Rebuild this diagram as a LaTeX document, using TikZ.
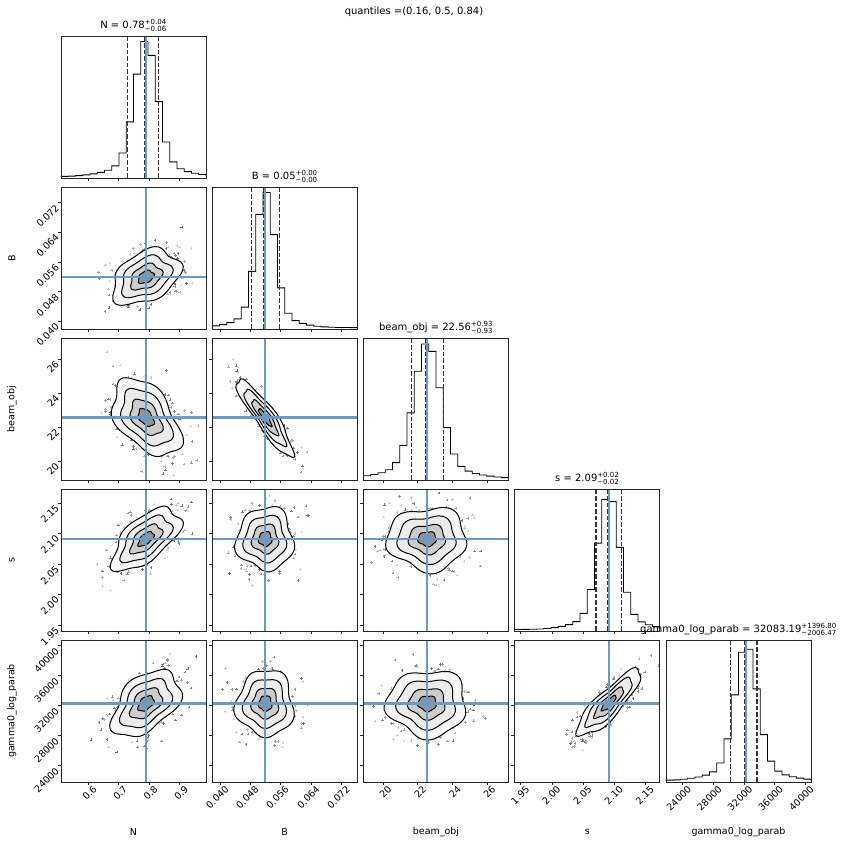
\documentclass[tikz,border=0pt]{standalone}
\usepackage{fontspec}
\setmainfont{DejaVu Sans}
\definecolor{steelblue}{HTML}{6A9BC6}
\newcommand\errs[2]{$^{\textrm{\scriptsize #1}}_{\textrm{\scriptsize #2}}$}
% tick fraction / label lists per parameter
\newcommand\setticks[1]{\ifcase#1\or
  \def\tl{0.187/0.6,0.398/0.7,0.608/0.8,0.819/0.9}\or
  \def\tl{0.055/0.040,0.262/0.048,0.469/0.056,0.683/0.064,0.890/0.072}\or
  \def\tl{0.134/20,0.373/22,0.613/24,0.852/26}\or
  \def\tl{0.042/1.95,0.257/2.00,0.472/2.05,0.687/2.10,0.902/2.15}\or
  \def\tl{0.115/24000,0.326/28000,0.537/32000,0.748/36000,0.960/40000}\fi}
\newcommand\settitle[1]{\ifcase#1\or
  \def\ttl{N = 0.78\errs{+0.04}{−0.06}}\or
  \def\ttl{B = 0.05\errs{+0.00}{−0.00}}\or
  \def\ttl{beam\_obj = 22.56\errs{+0.93}{−0.93}}\or
  \def\ttl{s = 2.09\errs{+0.02}{−0.02}}\or
  \def\ttl{gamma0\_log\_parab = 32083.19\errs{+1396.80}{−2006.47}}\fi}
\begin{document}
\begin{tikzpicture}[x=1pt,y=1pt,
    frame/.style={draw=black!85,line width=0.8pt},
    truth/.style={fill=steelblue},
    qline/.style={dash pattern=on 4.5pt off 2pt,line width=1.3pt,draw=black!80},
    hist/.style={draw=black,line width=0.9pt},
    cont/.style={draw=black,line width=1pt},
    ticklab/.style={font=\fontsize{9.5}{11}\selectfont,rotate=45,inner sep=1pt},
    axlab/.style={font=\fontsize{9.5}{11}\selectfont},
    ttlnode/.style={font=\fontsize{10}{12}\selectfont,anchor=south,inner sep=1pt}]
  \useasboundingbox[fill=white] (0,0) rectangle (863,846);
  \pgfmathsetseed{4242}
  \foreach \i in {1,...,5}{
    \foreach \j in {1,...,\i}{
      \pgfmathsetmacro\xl{61+151.25*(\j-1)}
      \pgfmathsetmacro\yb{846-(178+151*(\i-1))}
      \pgfmathsetmacro\mux{{0.586,0.366,0.44,0.648,0.553}[\j-1]}
      \pgfmathsetmacro\sx{{0.09,0.075,0.105,0.085,0.09}[\j-1]}
      \pgfmathsetmacro\muy{{0.586,0.366,0.44,0.648,0.553}[\i-1]}
      \pgfmathsetmacro\sy{{0.09,0.075,0.105,0.085,0.09}[\i-1]}
      \pgfmathsetmacro\rh{{0,0.35,-0.45,0.6,0.45, 0.35,0,-0.9,0,0, -0.45,-0.9,0,0,0, 0.6,0,0,0,0.85, 0.45,0,0,0.85,0}[5*(\i-1)+\j-1]}
      \pgfmathsetmacro\rc{sqrt(1-\rh*\rh)}
      \begin{scope}[shift={(\xl,\yb)},x=145pt,y=142pt]
        \ifnum\i=\j
          % histogram
          \pgfmathsetmacro\ql{{0.126,0.097,0.111,0.087,0.106}[\j-1]}
          \pgfmathsetmacro\qu{{0.084,0.097,0.111,0.087,0.074}[\j-1]}
          \draw[hist] (0,0.01) foreach \k [evaluate=\k as \h using
              {0.01+0.86*exp(-0.5*((\k/20+0.025-\mux)/(0.85*\sx))^2)+0.1*exp(-0.5*((\k/20+0.025-\mux)/(2.2*\sx))^2)}]
              in {0,...,19} {-- (\k/20,\h) -- (\k/20+0.05,\h)} -- (1,0.01);
          \draw[qline] (\mux-\ql,0) -- (\mux-\ql,1);
          \draw[qline] (\mux-0.01,0) -- (\mux-0.01,1);
          \draw[qline] (\mux+\qu,0) -- (\mux+\qu,1);
          \fill[truth] ([xshift=-1.1pt]\mux,0) rectangle ([xshift=1.1pt]\mux,1);
          \settitle{\i}
          \node[ttlnode] (title\i) at (0.5,1) [yshift=3pt] {\ttl};
        \else
          \begin{scope}
            \clip (0,0) rectangle (1,1);
            % scatter
            \foreach \k in {1,...,260}{
              \pgfmathsetmacro\za{1.5*(rand+rand+rand)}
              \pgfmathsetmacro\zb{1.5*(rand+rand+rand)}
              \pgfmathtruncatemacro\gv{15+45*rnd}
              \draw[black!\gv,line width=0.35pt]
                (\mux+\sx*\za,\muy+\sy*\rh*\za+\sy*\rc*\zb)
                +(-1.3pt,0) -- +(1.3pt,0) +(0,-1.3pt) -- +(0,1.3pt);
            }
            % density levels
            \foreach \lv/\gr in {2.6/3,1.9/8,1.2/20,0.6/42}{
              \fill[black!\gr] plot[variable=\t,domain=0:350,samples=36,smooth cycle]
                ({\mux+\lv*\sx*cos(\t)*(1+0.08*sin(5*\t+40*\i)+0.06*cos(3*\t+70*\j))},
                 {\muy+\lv*\sy*(\rh*cos(\t)+\rc*sin(\t))*(1+0.08*sin(5*\t+40*\i)+0.06*cos(3*\t+70*\j))});
            }
            \foreach \lv in {2.6,1.9,1.2,0.6}{
              \draw[cont] plot[variable=\t,domain=0:350,samples=36,smooth cycle]
                ({\mux+\lv*\sx*cos(\t)*(1+0.08*sin(5*\t+40*\i)+0.06*cos(3*\t+70*\j))},
                 {\muy+\lv*\sy*(\rh*cos(\t)+\rc*sin(\t))*(1+0.08*sin(5*\t+40*\i)+0.06*cos(3*\t+70*\j))});
            }
          \end{scope}
          \fill[truth] ([xshift=-1.1pt]\mux,0) rectangle ([xshift=1.1pt]\mux,1);
          \fill[truth] ([yshift=-1.1pt]0,\muy) rectangle ([yshift=1.1pt]1,\muy);
          \fill[truth] ([xshift=-3.5pt,yshift=-3.5pt]\mux,\muy) rectangle ([xshift=3.5pt,yshift=3.5pt]\mux,\muy);
          % y ticks
          \setticks{\i}
          \foreach \p/\lab in \tl{
            \draw[black!85,line width=0.7pt] (0,\p) -- ++(-3.5pt,0);
            \ifnum\j=1
              \node[ticklab,anchor=east] at (0,\p) [xshift=-4pt] {\lab};
            \fi
          }
        \fi
        \draw[frame] (0,0) rectangle (1,1);
        % x ticks
        \setticks{\j}
        \foreach \p/\lab in \tl{
          \draw[black!85,line width=0.7pt] (\p,0) -- ++(0,-3.5pt);
          \ifnum\i=5
            \node[ticklab,anchor=north east] at (\p,0) [yshift=-4pt,xshift=2pt] {\lab};
          \fi
        }
      \end{scope}
    }
  }
  % axis labels
  \foreach \x/\lab [count=\n] in {133.5/N,284.75/B,436/beam\_obj,587.25/s,738.5/gamma0\_log\_parab}
    \node[axlab] (xlab\n) at (\x,14) {\lab};
  \foreach \y/\lab [count=\n] in {588/B,437/beam\_obj,286/s,135/gamma0\_log\_parab}
    \node[axlab,rotate=90] (ylab\n) at (12,\y) {\lab};
  \node[font=\fontsize{10}{12}\selectfont] (quant) at (414,834) {quantiles =(0.16, 0.5, 0.84)};
\end{tikzpicture}
\end{document}
